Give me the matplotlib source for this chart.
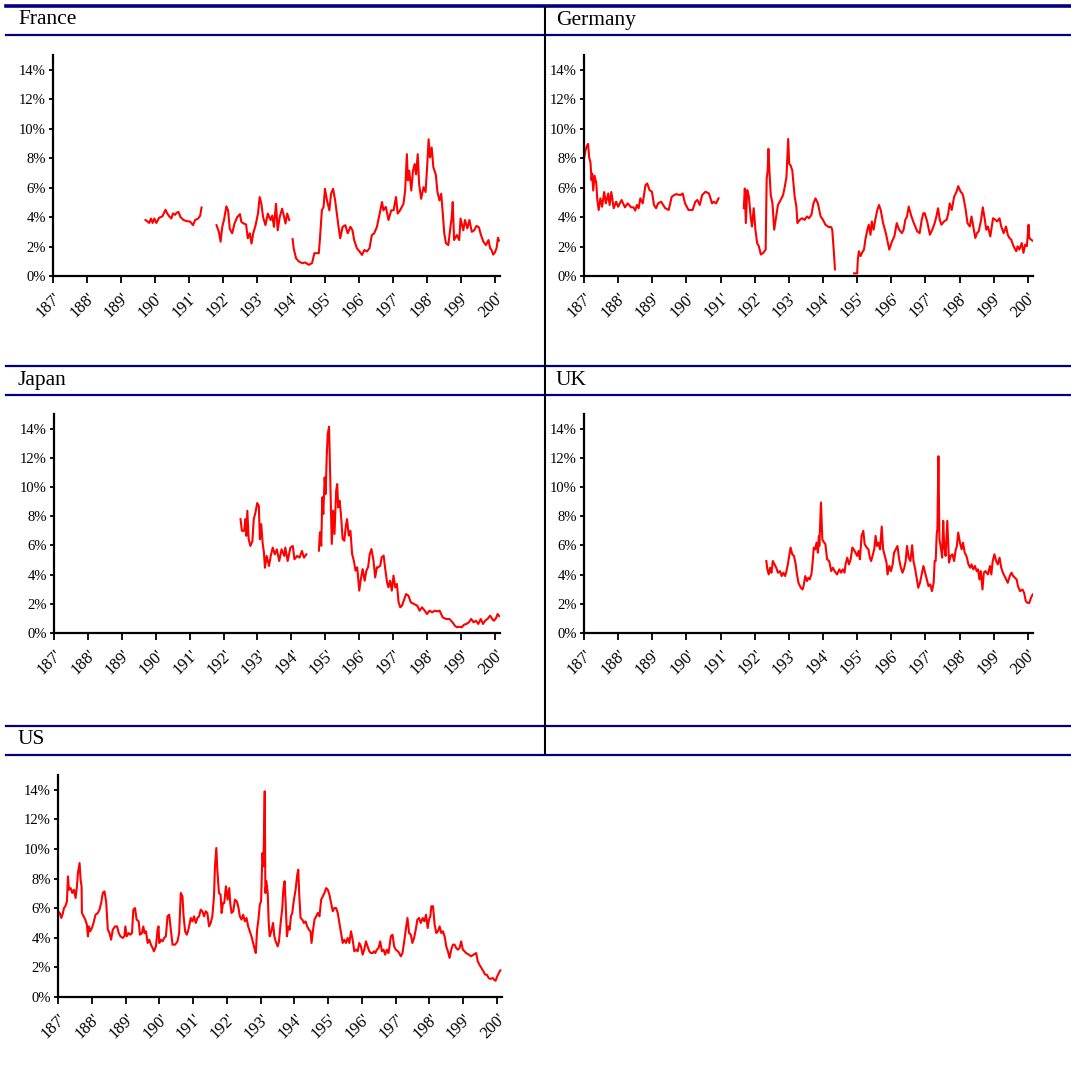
import numpy as np
import matplotlib
matplotlib.use("Agg")
import matplotlib.pyplot as plt
from matplotlib.lines import Line2D

nan = np.nan

# ---- data (year, yield %) ; nan = gap in the series ----
france_years = [1897.2, 1897.8, 1898.3, 1898.8, 1899.3, 1899.8, 1900.4, 1901.2, 1902.2, 1903.1, 1903.6, 1904.2,
                1904.8, 1905.3, 1905.9, 1906.4, 1906.9, 1907.5, 1908.4, 1909.4, 1910.3, 1911.2, 1911.8, 1912.7, 1913.3, 1913.7,
                1915.5,
                1918.1, 1918.8, 1919.3, 1919.8, 1920.3, 1921.0, 1921.5, 1922.0, 1922.7, 1923.4, 1924.2, 1925.0, 1925.4,
                1926.1, 1926.8, 1927.3, 1927.9, 1928.4, 1928.9, 1929.6, 1930.3, 1930.8, 1931.3, 1931.8, 1932.5, 1933.2,
                1934.0, 1934.5, 1935.0, 1935.6, 1936.1, 1936.7, 1937.4, 1937.9, 1938.4, 1938.9, 1939.5,
                1940.0,
                1940.5, 1940.8, 1941.5, 1942.3, 1943.3, 1944.2, 1945.2, 1946.2, 1946.9, 1948.2, 1948.5, 1949.1, 1949.6,
                1950.0, 1950.6, 1951.3, 1951.8, 1952.4, 1953.0, 1953.5, 1954.0, 1954.5, 1955.2, 1956.0, 1956.7, 1957.5,
                1958.1, 1958.6, 1959.4, 1960.2, 1960.9, 1961.6, 1962.3, 1963.1, 1963.8, 1964.5, 1965.3, 1966.1, 1966.8,
                1967.2, 1967.9, 1968.7, 1969.5, 1970.2, 1970.9, 1971.4, 1972.1, 1973.1, 1973.6, 1974.1, 1974.4, 1974.8,
                1975.4, 1975.9, 1976.4, 1976.8, 1977.3, 1977.7, 1978.3, 1979.0, 1979.6, 1980.0, 1980.5, 1980.9, 1981.4,
                1981.9, 1982.6, 1983.1, 1983.7, 1984.2, 1984.6, 1985.1, 1985.6, 1986.3, 1986.8, 1987.3, 1987.6, 1988.0,
                1988.8, 1989.5, 1989.9, 1990.7, 1991.2, 1991.9, 1992.5, 1993.2, 1993.9, 1994.6, 1995.3, 1995.9, 1996.6,
                1997.4, 1998.1, 1998.6, 1999.0, 1999.5, 2000.0, 2000.5, 2000.9, 2001.2]
france_vals = [3.8, 3.7, 3.6, 3.9, 3.6, 3.9, 3.6, 3.95, 4.05, 4.5, 4.25, 4.05,
               3.9, 4.25, 4.15, 4.3, 4.35, 4.0, 3.8, 3.72, 3.7, 3.45, 3.8, 3.9, 4.1, 4.65,
               nan,
               3.45, 3.0, 2.33, 3.35, 3.8, 4.73, 4.46, 3.2, 2.9, 3.56, 4.0, 4.2, 3.68,
               3.56, 3.5, 2.56, 2.9, 2.2, 2.9, 3.45, 4.24, 5.36, 4.9, 4.0, 3.45, 4.24,
               3.8, 4.1, 3.34, 4.9, 3.1, 4.0, 4.57, 4.1, 3.56, 4.24, 3.8,
               nan,
               2.5, 1.88, 1.2, 0.99, 0.87, 0.92, 0.76, 0.87, 1.55, 1.55, 2.44, 4.46, 4.69,
               5.92, 5.13, 4.46, 5.58, 5.92, 5.13, 4.24, 3.34, 2.56, 3.34, 3.45, 2.9, 3.34,
               3.1, 2.44, 1.88, 1.66, 1.43, 1.77, 1.66, 1.88, 2.78, 2.9, 3.34, 4.24, 5.02,
               4.46, 4.69, 3.8, 4.46, 4.46, 5.36, 4.24, 4.46, 4.9, 5.8, 8.27, 6.5, 7.15,
               5.8, 7.15, 7.6, 6.9, 8.27, 6.25, 5.24, 6.03, 5.7, 7.15, 9.28, 8.05, 8.72,
               7.38, 6.9, 5.7, 5.13, 5.58, 4.46, 2.9, 2.22, 2.1, 3.1, 4.0, 5.02, 2.44,
               2.78, 2.44, 3.9, 3.1, 3.8, 3.23, 3.8, 3.0, 3.1, 3.4, 3.3, 2.78, 2.33,
               2.1, 2.44, 1.88, 1.77, 1.45, 1.6, 1.9, 2.6, 2.4]

germany_years = [1870.0, 1870.4, 1870.9, 1871.2, 1871.5, 1871.9, 1872.2, 1872.4, 1872.7, 1873.1, 1873.6, 1873.9,
                 1874.3, 1874.8, 1875.3, 1875.9, 1876.4, 1877.1, 1877.5, 1878.0, 1878.7, 1879.4, 1880.0, 1881.0,
                 1882.0, 1882.8, 1883.8, 1884.5, 1885.0, 1885.5, 1886.0, 1886.5, 1887.2, 1888.0, 1888.5, 1889.2,
                 1889.9, 1890.5, 1891.1, 1891.7, 1892.6, 1893.8, 1894.8, 1895.7, 1896.4, 1897.0, 1898.2, 1898.9,
                 1899.6, 1900.6, 1901.8, 1902.6, 1903.2, 1903.9, 1904.6, 1905.6, 1906.6, 1907.5, 1908.0, 1908.7,
                 1909.4,
                 1912.0,
                 1916.8, 1917.1, 1917.4, 1917.8, 1918.3, 1918.8, 1919.2, 1919.7, 1920.2, 1920.7, 1921.2, 1921.8,
                 1922.5, 1923.2, 1923.5, 1923.8, 1924.0, 1924.3, 1924.7, 1925.2, 1925.7, 1926.3, 1926.8, 1927.6,
                 1928.3, 1928.8, 1929.3, 1929.8, 1930.1, 1930.5, 1931.0, 1931.7, 1932.2, 1932.5, 1933.2, 1933.9,
                 1934.6, 1935.3, 1935.9, 1936.6, 1937.2, 1937.8, 1938.5, 1939.3, 1940.0, 1940.7, 1941.7, 1942.4,
                 1942.7, 1943.2, 1943.5,
                 1946.0,
                 1949.1, 1950.0, 1950.2, 1950.5, 1951.0, 1951.4, 1952.0, 1952.4, 1953.0, 1953.4, 1953.9, 1954.3,
                 1954.8, 1955.3, 1955.9, 1956.4, 1956.9, 1957.6, 1958.4, 1959.0, 1959.4, 1960.2, 1960.9, 1961.6,
                 1962.3, 1963.1, 1963.6, 1964.1, 1964.6, 1965.1, 1965.9, 1966.6, 1967.6, 1968.3, 1968.9, 1969.4,
                 1969.8, 1970.5, 1971.3, 1972.0, 1972.7, 1973.2, 1973.7, 1974.2, 1974.7, 1975.4, 1976.2, 1976.7,
                 1977.1, 1977.7, 1978.4, 1979.1, 1979.6, 1980.3, 1980.8, 1981.1, 1981.8, 1982.3, 1983.0, 1983.5,
                 1984.1, 1984.6, 1985.1, 1985.6, 1986.3, 1986.8, 1987.4, 1987.8, 1988.3, 1989.0, 1989.8, 1990.5,
                 1991.0, 1991.7, 1992.2, 1992.9, 1993.6, 1994.1, 1994.6, 1995.1, 1995.8, 1996.6, 1997.0, 1997.5,
                 1998.2, 1998.7, 1999.2, 1999.7, 2000.2, 2000.4, 2000.8, 2001.3]
germany_vals = [7.96, 8.5, 8.86, 8.97, 8.07, 7.7, 6.5, 6.95, 5.8, 6.8, 6.3, 5.16,
                4.48, 5.27, 4.7, 5.7, 4.93, 5.6, 4.82, 5.7, 4.6, 5.04, 4.7, 5.16,
                4.66, 4.93, 4.66, 4.66, 4.44, 4.82, 4.6, 5.27, 4.93, 6.17, 6.28, 5.83,
                5.72, 4.82, 4.6, 4.93, 5.04, 4.6, 4.48, 5.38, 5.49, 5.56, 5.49, 5.6,
                4.93, 4.48, 4.48, 5.04, 5.16, 4.82, 5.49, 5.72, 5.6, 4.93, 5.04, 4.93,
                5.27,
                nan,
                4.6, 5.94, 3.59, 5.83, 5.38, 4.04, 3.36, 4.6, 3.14, 2.24, 2.02, 1.46,
                1.57, 1.79, 6.61, 7.17, 8.63, 7.17, 5.49, 4.93, 3.14, 4.04, 4.82, 5.16,
                5.49, 6.05, 6.73, 9.3, 7.62, 7.51, 7.17, 5.38, 4.71, 3.59, 3.81, 3.92,
                3.81, 4.04, 3.92, 4.15, 4.93, 5.27, 4.93, 4.04, 3.81, 3.48, 3.32, 3.32,
                3.14, 1.57, 0.45,
                nan,
                0.18, 0.18, 1.12, 1.68, 1.35, 1.57, 1.79, 2.47, 3.14, 3.48, 2.8, 3.7,
                3.14, 3.81, 4.48, 4.82, 4.48, 3.59, 2.91, 2.24, 1.79, 2.35, 2.69, 3.59,
                3.14, 2.91, 3.14, 3.81, 4.04, 4.71, 4.04, 3.59, 3.03, 2.91, 3.81, 4.26,
                4.26, 3.7, 2.8, 3.14, 3.59, 4.04, 4.6, 3.81, 3.48, 3.7, 3.81, 4.26,
                4.93, 4.48, 5.38, 5.72, 6.1, 5.72, 5.6, 5.38, 4.48, 3.59, 3.36, 4.04,
                3.25, 2.58, 2.91, 3.03, 3.81, 4.66, 3.81, 3.14, 3.36, 2.69, 3.92, 3.81,
                3.7, 3.92, 3.36, 2.91, 3.36, 2.8, 2.58, 2.47, 2.02, 1.68, 2.02, 1.79,
                2.24, 1.57, 2.13, 2.02, 3.48, 2.58, 2.5, 2.4]

japan_years = [1925.0, 1925.4, 1926.1, 1926.4, 1926.7, 1927.0, 1927.4, 1927.9, 1928.5, 1928.9, 1929.4, 1929.9,
               1930.4, 1930.7, 1931.1, 1931.5, 1931.9, 1932.2, 1932.7, 1933.4, 1933.9, 1934.5, 1935.1, 1935.7,
               1936.4, 1937.1, 1937.9, 1938.2, 1938.9, 1939.7, 1940.4, 1940.9, 1941.7, 1942.4, 1943.1, 1943.7,
               1944.4,
               1946.5,
               1948.1, 1948.4, 1948.8, 1949.1, 1949.4, 1949.8, 1950.1, 1950.4, 1950.7, 1951.1, 1951.4, 1951.6,
               1951.9, 1952.3, 1952.7, 1953.2, 1953.5, 1953.8, 1954.2, 1954.6, 1955.1, 1955.6, 1956.0, 1956.4,
               1956.9, 1957.4, 1957.9, 1958.4, 1958.9, 1959.4, 1960.0, 1960.4, 1961.0, 1961.6, 1962.1, 1962.6,
               1963.1, 1963.6, 1964.2, 1964.7, 1965.2, 1965.6, 1966.2, 1966.6, 1967.2, 1967.6, 1968.2, 1968.6,
               1969.1, 1969.6, 1970.1, 1970.6, 1971.1, 1971.6, 1972.1, 1972.6, 1973.1, 1973.8, 1974.5, 1975.2,
               1976.1, 1977.1, 1977.8, 1978.5, 1979.3, 1980.0, 1980.7, 1981.5, 1982.3, 1983.0, 1983.7, 1984.6,
               1985.6, 1986.6, 1987.5, 1988.2, 1988.8, 1989.5, 1990.2, 1990.9, 1991.6, 1992.3, 1993.0, 1993.7,
               1994.4, 1995.1, 1995.8, 1996.5, 1997.1, 1997.8, 1998.6, 1999.2, 1999.7, 2000.3, 2000.8, 2001.3]
japan_vals = [7.8, 7.0, 7.0, 7.8, 6.65, 8.37, 6.42, 5.96, 6.3, 7.8, 8.26, 8.9,
              8.7, 6.42, 7.45, 6.19, 5.5, 4.47, 5.28, 4.59, 5.28, 5.85, 5.39, 5.73,
              4.93, 5.73, 5.28, 5.85, 4.93, 5.85, 5.96, 5.05, 5.28, 5.16, 5.62, 5.16,
              5.39,
              nan,
              5.64, 6.9, 5.98, 9.3, 8.15, 10.66, 9.52, 12.03, 13.6, 14.13, 10.9, 9.06,
              6.1, 8.38, 6.78, 9.75, 10.2, 8.6, 9.06, 8.15, 6.44, 6.32, 7.24, 7.8,
              6.67, 7.0, 5.41, 4.95, 4.27, 4.5, 2.9, 3.58, 4.38, 3.58, 4.27, 4.5,
              5.41, 5.75, 4.95, 3.81, 4.5, 4.5, 4.61, 5.18, 5.3, 4.5, 3.47, 3.13,
              3.58, 2.9, 3.93, 3.13, 3.36, 2.1, 1.76, 1.87, 2.21, 2.67, 2.56, 2.1,
              1.99, 1.87, 1.53, 1.76, 1.53, 1.3, 1.53, 1.42, 1.53, 1.48, 1.53, 1.07,
              0.96, 0.96, 0.73, 0.5, 0.39, 0.43, 0.39, 0.57, 0.62, 0.73, 0.96, 0.73,
              0.84, 0.62, 0.96, 0.62, 0.84, 0.96, 1.19, 0.96, 0.84, 1.0, 1.3, 1.15]
n_jp = min(len(japan_years), len(japan_vals))
japan_years, japan_vals = japan_years[:n_jp], japan_vals[:n_jp]

uk_years = [1923.4, 1923.7, 1924.1, 1924.5, 1924.9, 1925.3, 1925.8, 1926.3, 1926.8, 1927.4, 1927.9, 1928.4,
            1928.9, 1929.3, 1929.7, 1930.1, 1930.5, 1931.0, 1931.5, 1932.0, 1932.3, 1932.8, 1933.5, 1934.0,
            1934.3, 1934.8, 1935.3, 1935.7, 1936.1, 1936.6, 1936.9, 1937.3, 1937.7, 1938.1, 1938.5, 1938.8,
            1938.9, 1939.0, 1939.4, 1939.8, 1940.0, 1940.7, 1941.2, 1941.8, 1942.4, 1942.9, 1943.4, 1944.1,
            1944.8, 1945.3, 1945.8, 1946.3, 1946.6, 1947.1, 1947.6, 1948.1, 1948.6, 1949.0, 1949.5, 1950.0,
            1950.4, 1950.8, 1951.3, 1951.8, 1952.2, 1952.8, 1953.3, 1953.7, 1954.1, 1954.6, 1955.0, 1955.4,
            1955.8, 1956.2, 1956.7, 1957.2, 1957.6, 1958.1, 1958.6, 1958.9, 1959.4, 1959.9, 1960.4, 1960.8,
            1961.3, 1961.8, 1962.3, 1962.8, 1963.3, 1963.8, 1964.2, 1964.6, 1965.1, 1965.6, 1966.1, 1966.5,
            1967.0, 1967.5, 1967.9, 1968.4, 1968.9, 1969.4, 1969.9, 1970.4, 1970.9, 1971.4, 1971.9, 1972.4,
            1972.7, 1973.0, 1973.3, 1973.5, 1973.8, 1974.1, 1974.5, 1974.9, 1975.2, 1975.5, 1975.9, 1976.4,
            1976.9, 1977.4, 1977.9, 1978.4, 1978.8, 1979.2, 1979.6, 1980.1, 1980.6, 1981.0, 1981.5, 1982.0,
            1982.6, 1983.1, 1983.5, 1984.0, 1984.5, 1985.0, 1985.4, 1985.8, 1986.2, 1986.7, 1987.1, 1987.6,
            1988.3, 1988.9, 1989.3, 1989.7, 1990.2, 1990.7, 1991.2, 1991.7, 1992.2, 1992.7, 1993.4, 1994.1,
            1994.7, 1995.2, 1995.7, 1996.2, 1996.7, 1997.1, 1997.7, 1998.4, 1998.9, 1999.4, 1999.9, 2000.4,
            2000.9, 2001.4]
uk_vals = [4.93, 4.36, 4.01, 4.47, 4.13, 4.93, 4.7, 4.47, 4.13, 4.24, 3.9, 4.13,
           3.9, 4.24, 4.7, 5.28, 5.85, 5.39, 5.28, 4.7, 4.13, 3.44, 3.1, 2.98,
           3.21, 3.9, 3.56, 3.78, 3.67, 4.01, 4.7, 5.85, 5.73, 6.19, 5.5, 6.65,
           5.96, 6.42, 8.94, 6.42, 6.31, 6.08, 5.05, 4.93, 4.24, 4.47, 4.24, 4.01,
           4.36, 4.13, 4.36, 4.13, 4.7, 5.16, 4.7, 5.05, 5.85, 5.73, 5.5, 5.28,
           5.62, 5.05, 6.65, 7.0, 6.08, 5.85, 5.73, 5.16, 4.93, 5.39, 5.73, 6.65,
           5.96, 6.19, 5.73, 7.29, 5.73, 5.28, 4.82, 4.01, 4.59, 4.24, 4.7, 5.5,
           5.73, 5.96, 5.05, 4.47, 4.13, 4.47, 4.93, 5.96, 5.16, 4.93, 6.01, 4.93,
           4.36, 3.67, 3.1, 3.44, 4.01, 4.59, 4.13, 3.67, 3.21, 3.33, 2.87, 3.44,
           4.93, 4.93, 6.77, 7.11, 12.11, 6.42, 5.85, 5.16, 7.68, 5.96, 5.28, 7.68,
           4.82, 5.28, 5.39, 4.93, 5.62, 5.96, 6.88, 6.19, 5.73, 6.19, 5.5, 5.28,
           4.7, 4.47, 4.7, 4.36, 4.59, 4.24, 4.36, 3.67, 4.24, 2.98, 4.13, 4.24,
           4.01, 4.59, 4.01, 4.93, 5.39, 4.93, 4.7, 5.16, 4.47, 4.13, 3.78, 3.44,
           3.9, 4.13, 3.9, 3.78, 3.67, 3.21, 2.87, 2.98, 2.75, 2.18, 2.06, 2.06,
           2.41, 2.64]
n_uk = min(len(uk_years), len(uk_vals))
uk_years, uk_vals = uk_years[:n_uk], uk_vals[:n_uk]

us_years = [1870.0, 1870.49, 1870.98, 1871.47, 1871.77, 1872.16, 1872.65, 1872.95, 1873.24, 1873.74, 1874.23,
            1874.72, 1875.21, 1875.61, 1875.9, 1876.39, 1876.69, 1876.98, 1877.08, 1877.57, 1878.07, 1878.56,
            1878.86, 1879.15, 1879.54, 1880.03, 1880.52, 1881.11, 1881.8, 1882.29, 1882.78, 1883.27, 1883.76,
            1884.26, 1884.75, 1885.24, 1885.73, 1886.22, 1886.91, 1887.5, 1887.99, 1888.48, 1889.17, 1889.66,
            1889.95, 1890.35, 1890.94, 1891.43, 1891.92, 1892.31, 1892.8, 1893.29, 1893.88, 1894.28, 1894.87,
            1895.26, 1895.65, 1896.05, 1896.54, 1897.03, 1897.52, 1898.01, 1898.41, 1899.0, 1899.49, 1899.78,
            1899.98, 1900.47, 1900.96, 1901.45, 1901.95, 1902.44, 1902.93, 1903.42, 1903.91, 1904.7, 1905.39,
            1905.88, 1906.37, 1906.86, 1907.16, 1907.65, 1908.14, 1908.63, 1909.32, 1909.81, 1910.3, 1910.8,
            1911.29, 1911.78, 1912.27, 1912.76, 1913.25, 1913.74, 1914.23, 1914.73, 1915.22, 1915.71, 1916.2,
            1916.49, 1916.89, 1917.18, 1917.67, 1918.16, 1918.46, 1918.85, 1919.24, 1919.73, 1920.23, 1920.72,
            1921.01, 1921.4, 1921.9, 1922.39, 1922.98, 1923.47, 1923.86, 1924.35, 1924.84, 1925.34, 1925.83,
            1926.32, 1926.81, 1927.3, 1927.79, 1928.28, 1928.58, 1928.97, 1929.37, 1929.76, 1930.15, 1930.54,
            1930.84, 1931.23, 1931.42, 1931.72, 1932.11, 1932.41, 1932.7, 1933.19, 1933.69, 1934.08, 1934.47,
            1935.06, 1935.45, 1935.94, 1936.43, 1936.73, 1937.12, 1937.42, 1937.81, 1938.2, 1938.6, 1938.99,
            1939.38, 1939.88, 1940.37, 1940.86, 1941.16, 1941.45, 1941.84, 1942.33, 1942.83, 1943.32, 1943.81,
            1944.3, 1944.79, 1945.09, 1945.48, 1945.97, 1946.46, 1946.95, 1947.44, 1947.94, 1948.43, 1948.92,
            1949.41, 1949.9, 1950.39, 1950.88, 1951.37, 1951.87, 1952.36, 1952.85, 1953.34, 1953.83, 1954.32,
            1954.81, 1955.31, 1955.8, 1956.29, 1956.78, 1957.27, 1957.76, 1958.25, 1958.75, 1959.24, 1959.73,
            1960.22, 1960.71, 1961.2, 1961.69, 1962.19, 1962.68, 1963.17, 1963.56, 1963.96, 1964.45, 1964.94,
            1965.43, 1965.92, 1966.42, 1966.91, 1967.4, 1967.89, 1968.18, 1968.58, 1969.07, 1969.56, 1970.05,
            1970.65, 1971.04, 1971.53, 1972.02, 1972.32, 1972.61, 1973.0, 1973.5, 1973.99, 1974.48, 1974.97,
            1975.46, 1975.95, 1976.44, 1976.94, 1977.43, 1978.02, 1978.51, 1979.0, 1979.49, 1979.88, 1980.28,
            1980.57, 1981.06, 1981.55, 1982.04, 1982.54, 1983.03, 1983.52, 1984.01, 1984.5, 1984.99, 1985.48,
            1985.97, 1986.47, 1986.96, 1987.45, 1987.94, 1988.43, 1988.92, 1989.41, 1989.9, 1990.4, 1990.89,
            1991.67, 1992.36, 1993.05, 1993.84, 1994.33, 1994.82, 1995.41, 1996.0, 1996.49, 1996.98, 1997.57,
            1998.07, 1998.76, 1999.25,
            1999.6, 2000.0, 2000.5, 2001.0, 2001.3]
us_vals = [5.79, 5.68, 5.34, 5.68, 6.01, 6.13, 6.46, 8.15, 7.25, 7.36, 7.03, 7.25, 6.69, 7.48, 8.38, 9.05,
           7.93, 7.48, 5.68, 5.45, 5.23, 4.89, 4.1, 4.77, 4.44, 4.66, 5.0, 5.56, 5.68, 5.9, 6.35, 7.03, 7.14,
           6.46, 4.55, 4.32, 3.87, 4.55, 4.77, 4.77, 4.32, 4.1, 3.99, 4.1, 4.77, 4.1, 4.32, 4.21, 4.32, 5.9,
           6.01, 5.23, 5.11, 4.21, 4.32, 4.77, 4.32, 4.44, 3.65, 3.87, 3.54, 3.31, 3.09, 3.42, 4.55, 4.77,
           3.65, 3.87, 3.76, 3.99, 4.1, 5.45, 5.56, 4.55, 3.54, 3.54, 3.76, 4.32, 7.03, 6.8, 5.56, 4.44, 4.21,
           4.55, 5.34, 5.11, 5.45, 5.0, 5.34, 5.45, 5.9, 5.79, 5.45, 5.79, 5.68, 4.77, 5.0, 5.45, 6.8, 8.83,
           10.07, 8.6, 7.03, 6.91, 5.68, 6.35, 6.35, 7.48, 6.58, 7.36, 6.35, 5.68, 5.79, 6.58, 6.46, 6.01,
           5.45, 5.23, 5.56, 5.11, 5.34, 4.77, 4.44, 4.1, 3.65, 3.2, 2.97, 4.55, 5.23, 6.24, 6.46, 9.73, 8.83,
           13.9, 7.03, 7.82, 7.03, 5.0, 4.1, 4.44, 5.0, 4.1, 3.76, 3.42, 3.76, 5.0, 6.01, 7.25, 7.82, 6.35,
           4.1, 4.77, 4.55, 5.45, 5.68, 6.58, 7.25, 8.27, 8.6, 6.91, 5.34, 5.23, 5.0, 5.11, 4.77, 4.55, 4.44,
           3.65, 4.44, 5.23, 5.45, 5.68, 5.45, 6.58, 6.8, 7.03, 7.36, 7.25, 6.91, 6.35, 5.79, 6.01, 6.01, 5.68,
           5.0, 4.32, 3.65, 3.87, 3.65, 3.99, 3.65, 4.44, 3.87, 3.09, 3.2, 3.09, 3.65, 3.42, 2.86, 3.2, 3.76,
           3.42, 3.09, 2.97, 2.97, 3.09, 2.97, 3.2, 3.31, 3.76, 3.09, 3.2, 2.86, 3.2, 2.97, 3.42, 4.1, 4.21,
           3.42, 3.2, 3.09, 2.97, 2.75, 2.97, 3.42, 3.87, 4.55, 5.34, 4.32, 4.21, 3.65, 3.99, 4.55, 5.23, 5.34,
           5.0, 5.34, 5.11, 5.56, 4.66, 5.23, 5.45, 6.13, 6.13, 4.89, 4.32, 4.44, 4.77, 4.32, 4.44, 4.1, 3.42,
           3.09, 2.64, 3.2, 3.54, 3.54, 3.31, 3.2, 3.31, 3.76, 3.2, 3.09, 2.97, 2.86, 2.75, 2.86, 2.97, 2.41,
           2.18, 1.96, 1.73, 1.51, 1.51, 1.28, 1.22, 1.28,
           1.15, 1.1, 1.35, 1.6, 1.8]
n_us = min(len(us_years), len(us_vals))
us_years, us_vals = us_years[:n_us], us_vals[:n_us]

decades = list(range(1870, 2001, 10))
xtick_labels = ["%d'" % (d // 10) for d in decades]
ytick_vals = [0, 2, 4, 6, 8, 10, 12, 14]
ytick_labels = ["%d%%" % v for v in ytick_vals]

# ---- layout (pixels) ----
W, H = 1071, 1081
fig = plt.figure(figsize=(W / 100, H / 100), dpi=100)
plt.rcParams['font.family'] = ['Liberation Serif', 'DejaVu Serif']

navy = '#000080'


def hline(y, lw=2.0):
    fig.add_artist(Line2D([6 / W, 1.0], [1 - y / H, 1 - y / H], color=navy, lw=lw,
                          transform=fig.transFigure))


hline(5.5, lw=2.6)
for y in (34.5, 365.5, 394.5, 725.5, 754.5):
    hline(y, lw=1.6)
fig.add_artist(Line2D([545 / W, 545 / W], [1 - 7 / H, 1 - 754 / H], color='black', lw=1.5,
                      transform=fig.transFigure))

for txt, x, y in [("France", 18, 20), ("Germany", 556, 20), ("Japan", 18, 380),
                  ("UK", 556, 380), ("US", 18, 740)]:
    fig.text(x / W, 1 - y / H, txt, fontsize=15.5, va='center', ha='left')


def panel(l, t, r, b, years, vals):
    ax = fig.add_axes([l / W, 1 - b / H, (r - l) / W, (b - t) / H])
    ax.plot(years, vals, color='red', lw=1.5)
    ax.set_xlim(1870, 2001.5)
    ax.set_ylim(0, 15)
    for s in ('top', 'right'):
        ax.spines[s].set_visible(False)
    for s in ('left', 'bottom'):
        ax.spines[s].set_linewidth(1.6)
    ax.set_yticks(ytick_vals)
    ax.set_yticklabels(ytick_labels, fontsize=10.5)
    ax.set_xticks(decades)
    ax.set_xticklabels(xtick_labels, fontsize=12, rotation=45, ha='right', rotation_mode='anchor')
    ax.tick_params(axis='y', direction='out', length=3, width=1.3, pad=2)
    ax.tick_params(axis='x', direction='out', length=5, width=1.3, pad=5)
    return ax


panel(53, 55, 500, 276, france_years, france_vals)
panel(584, 55, 1033, 276, germany_years, germany_vals)
panel(54, 414, 500, 633, japan_years, japan_vals)
panel(584, 414, 1033, 633, uk_years, uk_vals)
panel(58, 775, 502, 997, us_years, us_vals)

plt.savefig('out.png', dpi=100)
